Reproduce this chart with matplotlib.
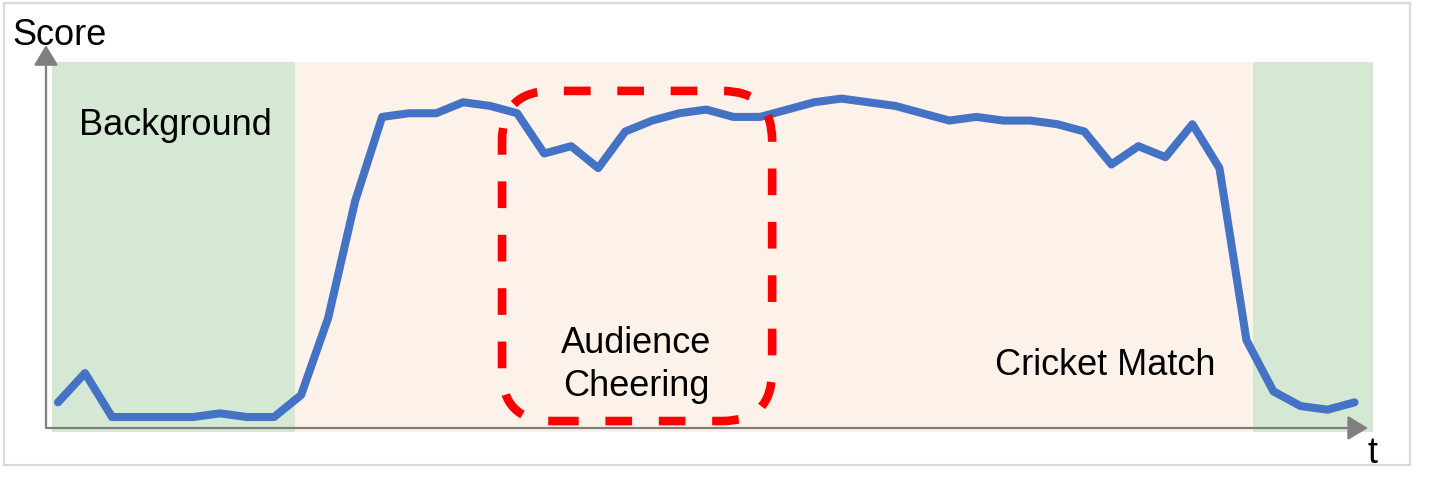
import matplotlib.pyplot as plt
import numpy as np
from matplotlib.patches import FancyBboxPatch, Rectangle

plt.rcParams['font.family'] = ['Liberation Sans', 'DejaVu Sans']

# score per time step (0 = axis, 1 = top of the shaded band)
score = [0.07, 0.15, 0.03, 0.03, 0.03, 0.03, 0.04, 0.03, 0.03, 0.09,
         0.30, 0.62, 0.85, 0.86, 0.86, 0.89, 0.88, 0.86, 0.75, 0.77,
         0.71, 0.81, 0.84, 0.86, 0.87, 0.85, 0.85, 0.87, 0.89, 0.90,
         0.89, 0.88, 0.86, 0.84, 0.85, 0.84, 0.84, 0.83, 0.81, 0.72,
         0.77, 0.74, 0.83, 0.71, 0.24, 0.10, 0.06, 0.05, 0.07]
t = np.arange(len(score))

# shaded segments (start, end) in time steps
bg_segments = [(-0.22, 8.78), (44.26, 48.67)]
match_segment = (8.78, 44.26)
# highlighted part (start, end) in time steps
cheer_span = (16.44, 26.44)

W, H = 1437, 483
fig = plt.figure(figsize=(W / 100, H / 100), dpi=100)
ax = fig.add_axes([46 / W, 55 / H, 1322 / W, 366 / H])
ax.set_xlim(-0.444, 48.5)
ax.set_ylim(0, 1)
ax.axis('off')

# outer frame
fig.patches.append(Rectangle((4 / W, 18 / H), 1406 / W, 462 / H, transform=fig.transFigure,
                             fill=False, edgecolor='#d9d9d9', linewidth=1.6))

# background bands
for a, b in bg_segments:
    ax.axvspan(a, b, ymin=-0.011, ymax=1, color='#d5e8d4', lw=0, clip_on=False, zorder=0)
ax.axvspan(*match_segment, ymin=-0.011, ymax=1, color='#fdf2e9', lw=0, clip_on=False, zorder=0)

# axis arrows
arrow = dict(arrowstyle='-|>,head_length=1.25,head_width=0.75', color='#7f7f7f',
             lw=1.6, shrinkA=0, shrinkB=0, mutation_scale=10)
ax.annotate('', xy=(1.0, 0), xytext=(0, 0), xycoords='axes fraction',
            arrowprops=arrow, annotation_clip=False)
ax.annotate('', xy=(0, 1.046), xytext=(0, 0), xycoords='axes fraction',
            arrowprops=arrow, annotation_clip=False)

# score curve
ax.plot(t, score, color='#4472c4', lw=5.8, solid_joinstyle='round',
        solid_capstyle='round', zorder=3, clip_on=False)

# dashed rounded box
box = FancyBboxPatch((cheer_span[0], 0.019), cheer_span[1] - cheer_span[0], 0.902,
                     boxstyle='round,pad=0,rounding_size=1.85', mutation_aspect=27 / 366,
                     fill=False, edgecolor='#ff0000', linewidth=6.2,
                     linestyle=(0, (3.1, 3.1)), zorder=4, clip_on=False)
ax.add_patch(box)

# labels
fs = 26
ax.text(-1.70, 1.046, 'Score', fontsize=fs, va='baseline', ha='left')
ax.text(0.78, 0.80, 'Background', fontsize=fs, va='baseline', ha='left')
ax.text(21.4, 0.205, 'Audience', fontsize=fs, va='baseline', ha='center')
ax.text(21.4, 0.088, 'Cheering', fontsize=fs, va='baseline', ha='center')
ax.text(34.7, 0.145, 'Cricket Match', fontsize=fs, va='baseline', ha='left')
ax.text(48.48, -0.096, 't', fontsize=fs, va='baseline', ha='left')

fig.savefig('out.png', dpi=100)
